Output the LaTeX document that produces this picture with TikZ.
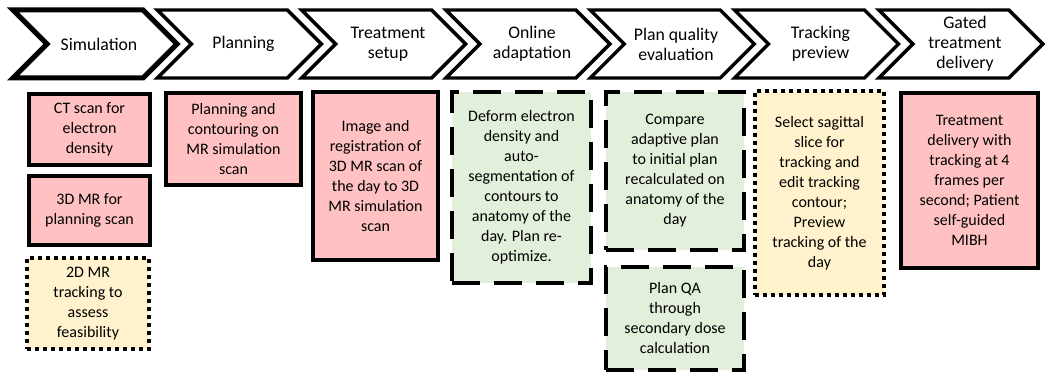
\documentclass[tikz,border=0pt]{standalone}
\usepackage{fontspec}
\setmainfont{Carlito}
\newlength\pxu
\setlength\pxu{0.75pt}
\definecolor{boxred}{HTML}{FFC1C1}
\definecolor{boxgreen}{HTML}{E2EFDA}
\definecolor{boxcream}{HTML}{FFF2CC}
\tikzset{
  chev/.style={draw=black, line width=2.6pt, line join=miter, fill=white},
  chevlabel/.style={align=center, inner sep=0pt, font=\fontsize{13.3}{15}\selectfont},
  stepbox/.style={align=center, inner sep=0pt, outer sep=0pt, font=\fontsize{12}{15}\selectfont},
  solidbox/.style={stepbox, draw=black, fill=boxred, line width=3pt},
  dashbox/.style={stepbox, draw=black, fill=boxgreen, line width=3pt, dash pattern=on 21pt off 10.5pt},
  dotbox/.style={stepbox, draw=black, fill=boxcream, line width=3pt, dash pattern=on 3pt off 3pt},
}
\begin{document}
\begin{tikzpicture}[x=0.75pt, y=-0.75pt]
\useasboundingbox (0,0) rectangle (1051,374);
% chevrons
\foreach \i/\lw in {0/3.75pt,1/2.6pt,2/2.6pt,3/2.6pt,4/2.6pt,5/2.6pt,6/2.6pt}{
  \pgfmathsetmacro{\xo}{13+144.3*\i}
  \draw[chev, line width=\lw] (\xo,10) -- ++(130,0) -- ++(34,34) -- ++(-34,34) -- ++(-130,0) -- ++(34,-34) -- cycle;
}
\node[chevlabel] (c1) at (99,44) {Simulation};
\node[chevlabel] (c2) at (243.5,44) {Planning};
\node[chevlabel] (c3) at (388,44) {Treatment\\setup};
\node[chevlabel] (c4) at (532,44) {Online\\adaptation};
\node[chevlabel] (c5) at (676,44) {Plan quality\\evaluation};
\node[chevlabel] (c6) at (820.5,44) {Tracking\\preview};
\node[chevlabel] (c7) at (965,44) {Gated\\treatment\\delivery};
% boxes
\node[solidbox, minimum width=121\pxu, minimum height=71\pxu] (b1) at (89.5,129.5) {CT scan for\\electron\\density};
\node[solidbox, minimum width=121\pxu, minimum height=69\pxu] (b2) at (89.5,210.5) {3D MR for\\planning scan};
\node[dotbox, minimum width=122\pxu, minimum height=91\pxu] (b3) at (88,303.5) {2D MR\\tracking to\\assess\\feasibility};
\node[solidbox, minimum width=135\pxu, minimum height=92\pxu] (b4) at (233.5,139) {Planning and\\contouring on\\MR simulation\\scan};
\node[solidbox, minimum width=125\pxu, minimum height=168\pxu] (b5) at (375.5,176) {Image and\\registration of\\3D MR scan of\\the day to 3D\\MR simulation\\scan};
\node[dashbox, minimum width=139\pxu, minimum height=191\pxu] (b6) at (521.5,187.5) {Deform electron\\density and\\auto-\\segmentation of\\contours to\\anatomy of the\\day. Plan re-\\optimize.};
\node[dashbox, minimum width=138\pxu, minimum height=158\pxu] (b7) at (675,171) {Compare\\adaptive plan\\to initial plan\\recalculated on\\anatomy of the\\day};
\node[dashbox, minimum width=138\pxu, minimum height=103\pxu] (b8) at (675,318.5) {Plan QA\\through\\secondary dose\\calculation};
\node[dotbox, minimum width=129\pxu, minimum height=204\pxu] (b9) at (819.5,193) {Select sagittal\\slice for\\tracking and\\edit tracking\\contour;\\Preview\\tracking of the\\day};
\node[solidbox, minimum width=137\pxu, minimum height=175\pxu] (b10) at (969.5,180.5) {Treatment\\delivery with\\tracking at 4\\frames per\\second; Patient\\self-guided\\MIBH};
\end{tikzpicture}
\end{document}
